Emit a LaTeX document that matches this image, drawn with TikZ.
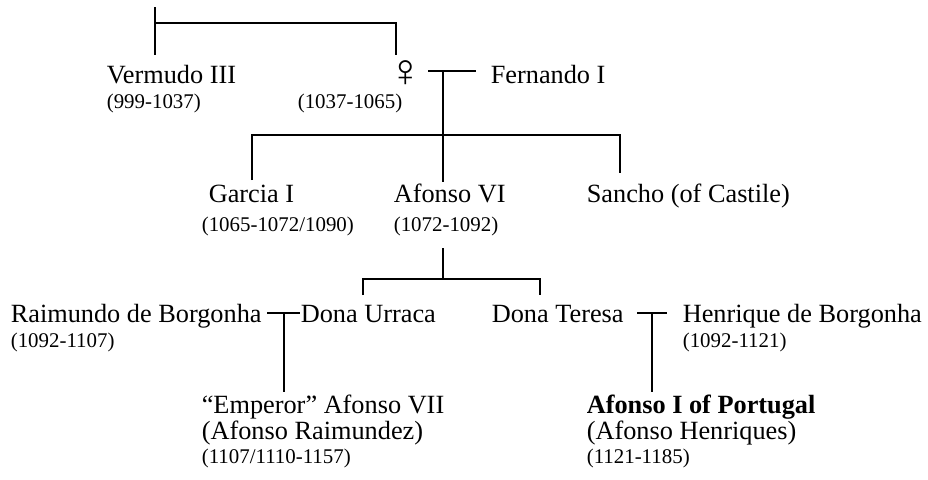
\documentclass[tikz,border=0pt]{standalone}
\usepackage{fontspec}
\setmainfont{Liberation Serif}

\begin{document}
\begin{tikzpicture}[x=0.5pt,y=-0.5pt,line width=0.8pt,
    person/.style={anchor=base west,inner sep=0pt,font=\fontsize{13.15}{15}\selectfont},
    years/.style={anchor=base west,inner sep=0pt,font=\fontsize{10.45}{12}\selectfont}]
  \useasboundingbox (0,0) rectangle (928,479);
  % people
  \node[person] (Verm) at (106,83) {Vermudo III};
  \node[years] (VermY) at (106,108) {(999-1037)};
  \node[person] (Fem) at (388,86) {\fontsize{23}{25}\selectfont ♀};
  \node[years] (FemY) at (297,108) {(1037-1065)};
  \node[person] (Fern) at (490,83) {Fernando I};
  \node[person] (Garcia) at (208,202) {Garcia I};
  \node[years] (GarciaY) at (201,231) {(1065-1072/1090)};
  \node[person] (AfVI) at (393,202) {Afonso VI};
  \node[years] (AfVIY) at (393,231) {(1072-1092)};
  \node[person] (Sancho) at (586,202) {Sancho (of Castile)};
  \node[person] (Raim) at (10,322) {Raimundo de Borgonha};
  \node[years] (RaimY) at (10,347) {(1092-1107)};
  \node[person] (Urraca) at (300,322) {Dona Urraca};
  \node[person] (Teresa) at (491,322) {Dona Teresa};
  \node[person] (Henr) at (682,322) {Henrique de Borgonha};
  \node[years] (HenrY) at (682,347) {(1092-1121)};
  \node[person] (AfVII) at (201,413) {“Emperor” Afonso VII};
  \node[person] (AfVIIb) at (201,439) {(Afonso Raimundez)};
  \node[years] (AfVIIY) at (201,463) {(1107/1110-1157)};
  \node[person] (AfI) at (586,413) {\bfseries Afonso I of Portugal};
  \node[person] (AfIb) at (586,439) {(Afonso Henriques)};
  \node[years] (AfIY) at (586,463) {(1121-1185)};
  % junctions
  \coordinate (top) at (155,7);
  \coordinate (sib) at (155,23);
  \coordinate (VermL) at (155,55);
  \coordinate (FemL) at (396,55);
  \coordinate (mFw) at (428,71);
  \coordinate (mFe) at (476,71);
  \coordinate (mF) at (443,71);
  \coordinate (GarciaL) at (252,180);
  \coordinate (AfVIL) at (443,182);
  \coordinate (SanchoL) at (620,173);
  \coordinate (kidsF) at (252,135);
  \coordinate (AfVIdown) at (443,248);
  \coordinate (kidsA) at (443,279);
  \coordinate (UrracaL) at (363,295);
  \coordinate (TeresaL) at (540,295);
  \coordinate (mUw) at (267,313);
  \coordinate (mUe) at (300,313);
  \coordinate (mU) at (284,313);
  \coordinate (AfVIIL) at (284,392);
  \coordinate (mTw) at (637,313);
  \coordinate (mTe) at (667,313);
  \coordinate (mT) at (652,313);
  \coordinate (AfIL) at (652,392);
  % lines
  \draw (top) -- (VermL);
  \draw (sib) -| (FemL);
  \draw (mFw) -- (mFe);
  \draw (mF) -- (AfVIL);
  \draw (GarciaL) |- (kidsF -| SanchoL) -- (SanchoL);
  \draw (AfVIdown) -- (kidsA);
  \draw (UrracaL) |- (kidsA -| TeresaL) -- (TeresaL);
  \draw (mUw) -- (mUe);
  \draw (mU) -- (AfVIIL);
  \draw (mTw) -- (mTe);
  \draw (mT) -- (AfIL);
\end{tikzpicture}
\end{document}
